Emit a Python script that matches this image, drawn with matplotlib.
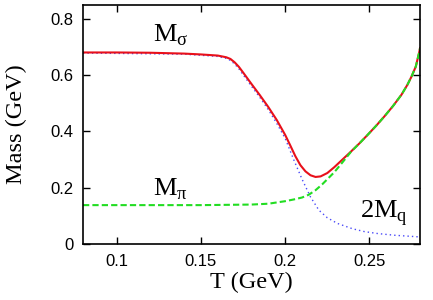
import matplotlib
matplotlib.use("Agg")
import matplotlib.pyplot as plt

# M_sigma (red solid)
t_sigma = [0.080, 0.100, 0.120, 0.140, 0.150, 0.160, 0.165, 0.1675, 0.170, 0.1725,
           0.175, 0.180, 0.185, 0.190, 0.195, 0.200, 0.203, 0.206, 0.209, 0.212,
           0.215, 0.218, 0.221, 0.225, 0.229, 0.234, 0.239, 0.244, 0.249, 0.254,
           0.259, 0.264, 0.269, 0.2725, 0.275, 0.2775, 0.2795, 0.280]
m_sigma = [0.680, 0.680, 0.679, 0.676, 0.673, 0.669, 0.663, 0.657, 0.645, 0.629,
           0.609, 0.568, 0.528, 0.486, 0.440, 0.387, 0.350, 0.312, 0.280, 0.258,
           0.244, 0.238, 0.240, 0.252, 0.272, 0.300, 0.328, 0.357, 0.388, 0.420,
           0.454, 0.490, 0.530, 0.565, 0.595, 0.630, 0.680, 0.695]

# M_pi (green dashed)
t_pi = [0.080, 0.150, 0.180, 0.190, 0.200, 0.205, 0.210, 0.214, 0.218, 0.222,
        0.225, 0.229, 0.234, 0.239, 0.244, 0.249, 0.254, 0.259, 0.264, 0.269,
        0.2725, 0.275, 0.2775, 0.2795, 0.280]
m_pi = [0.138, 0.138, 0.140, 0.143, 0.152, 0.158, 0.165, 0.175, 0.191, 0.212,
        0.230, 0.254, 0.290, 0.327, 0.357, 0.388, 0.420, 0.454, 0.490, 0.530,
        0.565, 0.595, 0.630, 0.680, 0.695]

# 2 M_q (blue dotted)
t_q = [0.080, 0.140, 0.160, 0.165, 0.1675, 0.170, 0.1725, 0.175, 0.180, 0.185,
       0.190, 0.195, 0.200, 0.205, 0.210, 0.215, 0.220, 0.225, 0.231, 0.240,
       0.247, 0.255, 0.265, 0.280]
m_q = [0.678, 0.674, 0.666, 0.659, 0.652, 0.639, 0.622, 0.601, 0.560, 0.520,
       0.477, 0.428, 0.375, 0.300, 0.230, 0.167, 0.120, 0.093, 0.073, 0.054,
       0.044, 0.037, 0.031, 0.025]

xticks = [0.1, 0.15, 0.2, 0.25]
yticks = [0, 0.2, 0.4, 0.6, 0.8]
yticklabels = ["0", "0.2", "0.4", "0.6", "0.8"]

fig = plt.figure(figsize=(4.33, 3.0), dpi=100)
ax = fig.add_axes([0.1917, 0.1867, 0.7783, 0.798])

ax.plot(t_q, m_q, color="#4a4af8", lw=1.0, linestyle=(0, (1, 2.2)))
ax.plot(t_sigma, m_sigma, color="#e8101a", lw=1.5)
ax.plot(t_pi, m_pi, color="#22dd22", lw=1.5, dashes=(3, 1.5))

ax.set_xlim(0.08, 0.28)
ax.set_ylim(0, 0.85)
ax.set_xticks(xticks)
ax.set_xticklabels([str(v) for v in xticks])
ax.set_yticks(yticks)
ax.set_yticklabels(yticklabels)
ax.tick_params(direction="in", top=True, right=True, length=5, width=1,
               labelsize=12, pad=7)
for lab in ax.get_xticklabels() + ax.get_yticklabels():
    lab.set_family("Liberation Sans")
for sp in ax.spines.values():
    sp.set_linewidth(1.2)

serif = "Liberation Serif"
ax.set_xlabel("T (GeV)", family=serif, fontsize=17.5, labelpad=2)
ax.set_ylabel("Mass (GeV)", family=serif, fontsize=17.5, labelpad=17)

ax.text(0.132, 0.74, r"M$_{\mathregular{σ}}$", family=serif, fontsize=19,
        ha="center", va="center")
ax.text(0.132, 0.195, r"M$_{\mathregular{π}}$", family=serif, fontsize=19,
        ha="center", va="center")
ax.text(0.2586, 0.11, r"2M$_{\mathregular{q}}$", family=serif, fontsize=19,
        ha="center", va="center")

fig.savefig("out.png", dpi=100)
